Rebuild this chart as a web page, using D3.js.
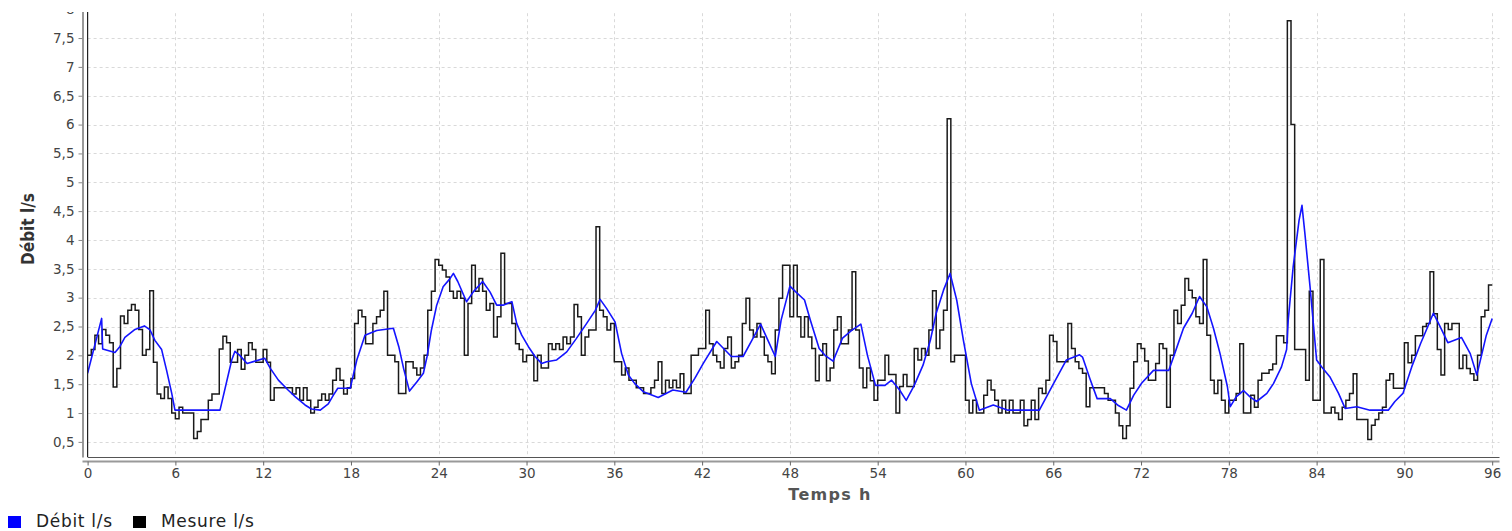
<!DOCTYPE html>
<html><head><meta charset="utf-8">
<script src="https://cdn.jsdelivr.net/npm/d3@7"></script>
<style>
html,body{margin:0;padding:0;background:#fff;}
svg{display:block;}
</style></head>
<body>
<svg id="chart" width="1512" height="531"></svg>
<script>
// ---------------- DATA ----------------
const xTicks = [0, 6, 12, 18, 24, 30, 36, 42, 48, 54, 60, 66, 72, 78, 84, 90, 96];
const yTicks = [0.5, 1, 1.5, 2, 2.5, 3, 3.5, 4, 4.5, 5, 5.5, 6, 6.5, 7, 7.5, 8];
const yTickLabels = ["0,5","1","1,5","2","2,5","3","3,5","4","4,5","5","5,5","6","6,5","7","7,5","8"];
const seriesNames = ["Débit l/s", "Mesure l/s"];
const seriesColors = ["#0000ff", "#000000"];

// Mesure l/s : one value every 15 minutes (hours 0 .. 95.75)
const measureStep = 0.25;
const mesure = [
 2.0,2.1,2.35,2.2, 2.45,2.35,2.22,1.45, 1.77,2.68,2.55,2.78, 2.88,2.78,2.45,2.0,
 2.1,3.12,1.88,1.33, 1.25,1.45,1.25,1.0, 0.9,1.1,1.0,1.0, 1.0,0.56,0.68,0.89,
 0.89,1.22,1.33,1.33, 2.11,2.33,2.22,1.88, 1.88,2.1,1.76,2.0, 2.22,2.1,1.88,1.88,
 2.1,1.88,1.22,1.44, 1.44,1.44,1.44,1.44, 1.33,1.44,1.22,1.44, 1.22,1.0,1.1,1.22,
 1.33,1.22,1.33,1.57, 1.77,1.57,1.33,1.44, 1.6,2.55,2.78,2.67, 2.2,2.2,2.55,2.67,
 2.78,3.11,2.0,2.0, 1.89,1.34,1.34,1.89, 1.89,1.78,1.66,1.78, 2.0,2.78,3.11,3.66,
 3.56,3.48,3.36,3.11, 2.99,3.11,2.99,2.0, 2.9,3.56,3.11,3.33, 3.11,2.78,2.9,2.32,
 2.67,3.77,2.9,2.9, 2.55,2.2,2.1,1.89, 2.0,2.0,1.56,2.0, 1.78,1.78,2.2,2.1,
 2.2,2.1,2.32,2.2, 2.32,2.88,2.67,2.0, 2.32,2.44,2.44,4.23, 2.78,2.67,2.44,2.55,
 1.89,1.89,1.66,1.78, 1.57,1.57,1.44,1.44, 1.34,1.34,1.44,1.57, 1.89,1.34,1.57,1.44,
 1.57,1.44,1.68,1.34, 1.34,2.0,2.0,2.12, 2.12,2.78,2.2,2.0, 1.89,1.78,2.12,2.32,
 1.78,1.89,2.0,2.55, 2.99,2.44,2.32,2.55, 2.32,2.0,1.89,1.68, 2.44,2.99,3.56,3.56,
 2.67,3.56,2.67,2.32, 2.67,2.32,2.12,1.56, 2.0,2.2,1.56,1.78, 2.44,2.67,2.2,2.2,
 2.44,3.45,2.44,1.78, 1.44,1.78,1.56,1.22, 1.57,1.57,2.0,1.67, 1.67,1.0,1.46,1.67,
 1.46,1.46,2.12,1.92, 2.12,2.0,2.44,3.12, 2.12,2.44,2.78,6.1, 1.89,2.0,2.0,2.0,
 1.22,1.0,1.22,1.0, 1.0,1.31,1.57,1.4, 1.22,1.0,1.22,1.0, 1.22,1.0,1.0,1.22,
 0.78,0.89,1.22,0.89, 1.43,1.34,1.57,2.35, 2.24,1.89,1.89,1.89, 2.55,2.12,1.89,1.77,
 1.69,1.11,1.44,1.44, 1.44,1.44,1.34,1.22, 1.22,1.0,0.78,0.56, 0.78,1.43,1.89,2.2,
 2.12,1.9,1.57,1.57, 1.86,2.2,2.12,1.1, 2.0,2.78,2.55,2.87, 3.33,3.13,3.0,2.67,
 2.55,3.66,2.35,1.57, 1.34,1.57,1.22,1.0, 1.22,1.22,1.34,2.2, 1.0,1.0,1.31,1.1,
 1.57,1.69,1.69,1.75, 1.85,2.34,2.34,2.22, 7.8,6.0,2.1,2.1, 2.1,1.57,3.11,1.22,
 1.22,3.66,1.0,1.0, 1.1,1.0,0.89,1.1, 1.22,1.34,1.68,0.89, 0.89,0.89,0.54,0.79,
 0.89,1.0,1.1,1.57, 1.68,1.43,1.43,1.43, 2.22,1.87,2.0,2.34, 2.34,2.5,2.55,3.45,
 2.72,2.1,1.66,2.55, 2.45,2.55,2.55,1.77, 2.0,1.77,1.68,1.57, 2.0,2.67,2.78,3.22
];

// Débit l/s : computed flow, vertices
const debitHours = [
 0,0.96,1.03,1.87,2.2,2.55,3.24,3.88,4.27,4.6,5.06,5.4,5.75,5.97,9.05,9.85,10.07,10.4,10.9,11.45,
 12.1,12.5,13.04,13.7,14.2,14.86,15.3,15.9,16.45,16.8,17.1,17.95,18.4,18.96,19.76,20.9,21.27,21.6,22.0,22.5,
 22.95,23.2,23.5,23.86,24.3,24.77,25.0,25.3,25.9,26.36,27.0,27.5,27.96,28.4,29.0,29.33,29.67,30.13,30.58,31.03,
 31.38,32.06,32.75,33.4,34.1,34.7,35.03,35.48,36.05,36.5,36.96,37.4,37.98,39.0,40.0,40.9,41.5,42.08,43.0,44.0,
 44.8,45.4,46.0,46.5,47.0,47.4,48.0,48.4,49.0,49.4,50.0,50.4,50.95,51.6,52.2,52.85,53.3,53.85,54.5,54.95,
 55.5,55.95,56.5,57.1,57.6,58.0,58.5,58.95,59.4,59.86,60.4,60.95,61.9,62.9,65.05,66.0,66.9,67.8,68.0,68.5,
 69.0,69.9,70.45,71.0,71.5,72.05,72.85,73.9,74.3,74.9,75.5,76.0,76.5,76.95,77.4,77.9,78.1,78.5,79.0,79.45,
 79.9,80.6,81.05,81.6,81.95,82.06,82.4,82.8,83.0,83.2,83.55,84.0,84.35,84.9,85.5,85.95,86.75,87.65,88.9,89.35,
 89.9,90.5,91.1,91.5,91.98,92.4,92.97,93.9,94.5,94.95,95.3,95.6,96.0
];
const debit = [
 1.69,2.64,2.11,2.05,2.15,2.31,2.45,2.51,2.44,2.26,2.1,1.74,1.34,1.05,1.05,1.92,2.07,2.0,1.86,1.9,
 1.95,1.77,1.57,1.4,1.28,1.14,1.07,1.05,1.16,1.31,1.43,1.43,1.92,2.35,2.43,2.47,2.15,1.77,1.38,1.54,
 1.69,1.98,2.44,2.87,3.19,3.33,3.42,3.28,2.93,3.1,3.28,3.1,2.87,2.87,2.93,2.55,2.35,2.15,1.98,1.86,
 1.89,1.92,2.06,2.29,2.55,2.78,2.97,2.81,2.58,2.03,1.66,1.51,1.37,1.27,1.4,1.36,1.6,1.86,2.24,1.98,
 1.98,2.26,2.54,2.26,1.98,2.61,3.2,3.1,2.96,2.61,2.12,2.0,1.9,2.3,2.43,2.54,2.0,1.48,1.48,1.57,
 1.4,1.22,1.48,1.83,2.26,2.73,3.13,3.42,2.96,2.26,1.51,1.05,1.14,1.05,1.05,1.5,1.92,2.01,1.97,1.6,
 1.25,1.25,1.13,1.05,1.31,1.52,1.74,1.74,2.03,2.47,2.73,3.02,2.84,2.47,2.03,1.46,1.11,1.28,1.39,1.28,
 1.2,1.34,1.51,1.8,2.1,2.61,3.54,4.34,4.6,4.11,3.19,1.92,1.8,1.63,1.34,1.08,1.11,1.05,1.05,1.2,
 1.34,1.8,2.2,2.44,2.73,2.52,2.22,2.31,2.03,1.66,2.03,2.35,2.64
];

// ---------------- LAYOUT ----------------
const svg0 = d3.select("#chart");
const W = 1512, H = 531;
const plot = {left: 87.6, right: 1499.5, top: 9.2, bottom: 457};
const visibleTop = 12;   // the reference picture is blank above this line

svg0.append("clipPath").attr("id", "pageclip").append("rect")
  .attr("x", 0).attr("y", visibleTop).attr("width", W).attr("height", H - visibleTop);
const svg = svg0.append("g").attr("clip-path", "url(#pageclip)");

const x = d3.scaleLinear().domain([0, 96.5]).range([plot.left, plot.right]);
const y = d3.scaleLinear().domain([0.238, 8]).range([plot.bottom, plot.top]);

const font = "'DejaVu Sans', Verdana, sans-serif";

// grid
const grid = svg.append("g");
grid.selectAll("line.gy").data(yTicks).join("line")
  .attr("x1", plot.left).attr("x2", plot.right)
  .attr("y1", d => Math.round(y(d)) + 0.5).attr("y2", d => Math.round(y(d)) + 0.5)
  .attr("stroke", "#d9d9d9").attr("stroke-width", 1).attr("stroke-dasharray", "3,3");
grid.selectAll("line.gx").data(xTicks.filter(d => d > 0)).join("line")
  .attr("y1", plot.top - 20).attr("y2", plot.bottom)
  .attr("x1", d => Math.round(x(d)) + 0.5).attr("x2", d => Math.round(x(d)) + 0.5)
  .attr("stroke", "#d9d9d9").attr("stroke-width", 1).attr("stroke-dasharray", "3,3");

// clip for the data
svg0.append("clipPath").attr("id", "clip").append("rect")
  .attr("x", plot.left).attr("y", 0).attr("width", plot.right - plot.left).attr("height", plot.bottom);

// Mesure series (step)
const mesurePts = mesure.map((v, i) => [i * measureStep, v]);
mesurePts.push([mesure.length * measureStep, mesure[mesure.length - 1]]);
const stepLine = d3.line().x(d => x(d[0])).y(d => y(d[1])).curve(d3.curveStepAfter);
svg.append("g").attr("clip-path", "url(#clip)").append("path").datum(mesurePts)
  .attr("d", stepLine).attr("fill", "none")
  .attr("stroke", "#1a1a1a").attr("stroke-width", 1.5).attr("stroke-linejoin", "miter");

// Débit series
const debitPts = debitHours.map((h, i) => [h, debit[i]]);
const line = d3.line().x(d => x(d[0])).y(d => y(d[1]));
svg.append("g").attr("clip-path", "url(#clip)").append("path").datum(debitPts)
  .attr("d", line).attr("fill", "none")
  .attr("stroke", "#1414ff").attr("stroke-width", 1.6).attr("stroke-linejoin", "round");

// plot border lines
svg.append("line").attr("x1", plot.left).attr("x2", plot.left)
  .attr("y1", plot.top - 20).attr("y2", plot.bottom).attr("stroke", "#222").attr("stroke-width", 1.2);
svg.append("line").attr("x1", plot.left).attr("x2", plot.right)
  .attr("y1", plot.bottom + 0.5).attr("y2", plot.bottom + 0.5).attr("stroke", "#555").attr("stroke-width", 1);

// Y axis (offset)
const yAxisX = 82.5;
const yAxis = d3.axisLeft(y).tickValues(yTicks).tickFormat((d, i) => yTickLabels[i]).tickSize(4).tickSizeOuter(0);
const gy = svg.append("g").attr("transform", `translate(${yAxisX},0)`).call(yAxis);
gy.select(".domain").attr("stroke", "#999").attr("stroke-width", 2);
gy.selectAll(".tick line").attr("stroke", "#888");
gy.selectAll(".tick text").attr("fill", "#444").attr("font-family", font).attr("font-size", 13.5).attr("x", -8);

// X axis (offset)
const xAxisY = 461.5;
const xAxis = d3.axisBottom(x).tickValues(xTicks).tickFormat(d3.format("d")).tickSize(4).tickSizeOuter(0);
const gx = svg.append("g").attr("transform", `translate(0,${xAxisY})`).call(xAxis);
gx.select(".domain").attr("stroke", "#999").attr("stroke-width", 2).attr("d", `M${yAxisX},0H${plot.right}`);
gx.selectAll(".tick line").attr("stroke", "#666");
gx.selectAll(".tick text").attr("fill", "#444").attr("font-family", font).attr("font-size", 13.5).attr("y", 7);

// Axis titles
svg.append("text").attr("transform", `translate(34,${229}) rotate(-90)`)
  .attr("text-anchor", "middle").attr("font-family", "'DejaVu Sans Condensed', 'DejaVu Sans', sans-serif")
  .attr("font-stretch", "condensed").attr("font-weight", "bold").attr("font-size", 17).attr("fill", "#333")
  .text("Débit l/s");
svg.append("text").attr("x", 830).attr("y", 500)
  .attr("text-anchor", "middle").attr("font-family", font)
  .attr("font-weight", "bold").attr("font-size", 16).attr("fill", "#555").attr("letter-spacing", 1.3)
  .text("Temps h");

// Legend
const legend = svg.append("g");
const legX = [8, 133];
seriesNames.forEach((name, i) => {
  legend.append("rect").attr("x", legX[i]).attr("y", 516).attr("width", 13).attr("height", 12).attr("fill", seriesColors[i]);
  legend.append("text").attr("x", legX[i] + 28).attr("y", 526.5).attr("font-family", font)
    .attr("font-size", 17).attr("letter-spacing", 0.7).attr("fill", "#222").text(name);
});
</script>
</body></html>
